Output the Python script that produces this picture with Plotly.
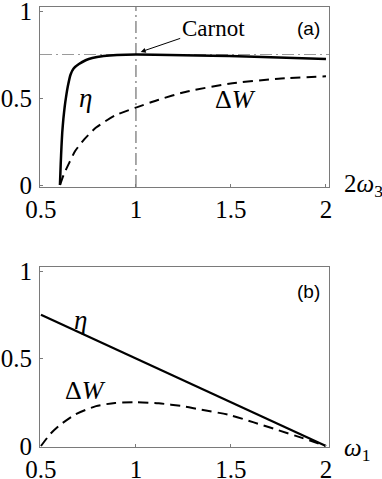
import plotly.graph_objects as go

# ---- data ----
# panel (a): x = 2*omega_3
a_eta_x = [0.600, 0.604, 0.608, 0.612, 0.618, 0.625, 0.632, 0.642, 0.656, 0.672, 0.700, 0.735, 0.770, 0.830, 0.900, 1.000, 1.100, 1.250, 1.400, 1.580, 1.750, 2.000]
a_eta_y = [0.000, 0.120, 0.220, 0.300, 0.380, 0.450, 0.505, 0.570, 0.635, 0.670, 0.695, 0.717, 0.730, 0.741, 0.747, 0.750, 0.749, 0.746, 0.743, 0.739, 0.733, 0.724]
a_dw_x = [0.600, 0.620, 0.650, 0.680, 0.730, 0.790, 0.890, 1.000, 1.120, 1.260, 1.490, 1.750, 2.000]
a_dw_y = [0.000, 0.060, 0.130, 0.195, 0.265, 0.330, 0.400, 0.445, 0.490, 0.535, 0.582, 0.611, 0.625]
carnot_eta = 0.75
carnot_x = 1.0

# panel (b): x = omega_1
b_eta_x = [0.5, 2.0]
b_eta_y = [0.75, 0.0]
b_dw_x = [0.50, 0.55, 0.60, 0.68, 0.79, 0.89, 1.00, 1.12, 1.25, 1.33, 1.49, 1.62, 1.75, 1.87, 2.00]
b_dw_y = [0.000, 0.070, 0.120, 0.180, 0.228, 0.246, 0.250, 0.244, 0.227, 0.210, 0.178, 0.135, 0.090, 0.048, 0.000]

x_ticks = [0.5, 1, 1.5, 2]
x_ticklabels = ["0.5", "1", "1.5", "2"]
y_ticks = [0, 0.5, 1]
y_ticklabels = ["0", "0.5", "1"]

W, H = 382, 479
SERIF = "Liberation Serif"
SANS = "Liberation Sans"
FRAME = "#7a7a7a"

fig = go.Figure()

# panel (a)
fig.add_trace(go.Scatter(x=a_eta_x, y=a_eta_y, mode="lines", line=dict(color="black", width=2.5, shape="spline", smoothing=0.6), xaxis="x", yaxis="y", showlegend=False))
fig.add_trace(go.Scatter(x=a_dw_x, y=a_dw_y, mode="lines", line=dict(color="black", width=2, dash="10px,6px", shape="spline", smoothing=0.6), xaxis="x", yaxis="y", showlegend=False))
# panel (b)
fig.add_trace(go.Scatter(x=b_eta_x, y=b_eta_y, mode="lines", line=dict(color="black", width=2.2), xaxis="x2", yaxis="y2", showlegend=False))
fig.add_trace(go.Scatter(x=b_dw_x, y=b_dw_y, mode="lines", line=dict(color="black", width=2, dash="10px,6px", shape="spline", smoothing=0.6), xaxis="x2", yaxis="y2", showlegend=False))

# Carnot guide lines (a)
fig.add_shape(type="line", xref="x domain", yref="y", x0=0, x1=1, y0=carnot_eta, y1=carnot_eta,
              line=dict(color="#9a9a9a", width=1.2, dash="12px,4px,2px,4px"), layer="below")
fig.add_shape(type="line", xref="x", yref="y domain", x0=carnot_x, x1=carnot_x, y0=0, y1=1,
              line=dict(color="#707070", width=1.2, dash="12px,4px,2px,4px"), layer="below")

axis_common = dict(showgrid=False, zeroline=False, showline=True, linecolor=FRAME, linewidth=1, mirror=True,
                   automargin=False, ticklabeloverflow="allow",
                   ticks="inside", ticklen=3, tickcolor=FRAME, tickfont=dict(family=SERIF, size=25, color="black"))

fig.update_layout(
    width=W, height=H, margin=dict(l=0, r=0, t=0, b=0, autoexpand=False),
    paper_bgcolor="white", plot_bgcolor="white",
    xaxis=dict(domain=[40/W, 329/W], range=[0.495, 2.016], anchor="y", tickvals=x_ticks, ticktext=x_ticklabels, ticklabelstandoff=0, **axis_common),
    yaxis=dict(domain=[1-187/H, 1-7/H], range=[-0.0115, 1.023], anchor="x", tickvals=y_ticks, ticktext=y_ticklabels, ticklabelstandoff=2, **axis_common),
    xaxis2=dict(domain=[40/W, 329/W], range=[0.495, 2.016], anchor="y2", tickvals=x_ticks, ticktext=x_ticklabels, ticklabelstandoff=0, **axis_common),
    yaxis2=dict(domain=[1-447/H, 1-267/H], range=[-0.0057, 1.023], anchor="x2", tickvals=y_ticks, ticktext=y_ticklabels, ticklabelstandoff=2, **axis_common),
)

def txt(x, y, s, size, family=SERIF, xanchor="center", yanchor="middle"):
    fig.add_annotation(xref="paper", yref="paper", x=x/W, y=1-y/H, text=s, showarrow=False,
                       font=dict(family=family, size=size, color="black"), xanchor=xanchor, yanchor=yanchor)

# Carnot arrow
fig.add_annotation(xref="x", yref="y", x=1.025, y=0.765, text="", showarrow=True, arrowhead=2, arrowsize=1,
                   arrowwidth=1, arrowcolor="black", ax=41, ay=-14)
txt(180, 29, "Carnot", 23, xanchor="left")
txt(322, 29, "(a)", 19, family=SANS, xanchor="right")
txt(322, 291, "(b)", 19, family=SANS, xanchor="right")
txt(85, 98, "<i>η</i>", 27)
txt(235, 99, "Δ<i>W</i>", 26)
txt(80, 320, "<i>η</i>", 27)
txt(85, 390, "Δ<i>W</i>", 26)
txt(342, 185, "2<i>ω</i><sub>3</sub>", 25, xanchor="left")
txt(342, 449, "<i>ω</i><sub>1</sub>", 25, xanchor="left")

fig.write_html("out.html", config={"displayModeBar": False},
               post_script="document.body.style.margin='0';")
